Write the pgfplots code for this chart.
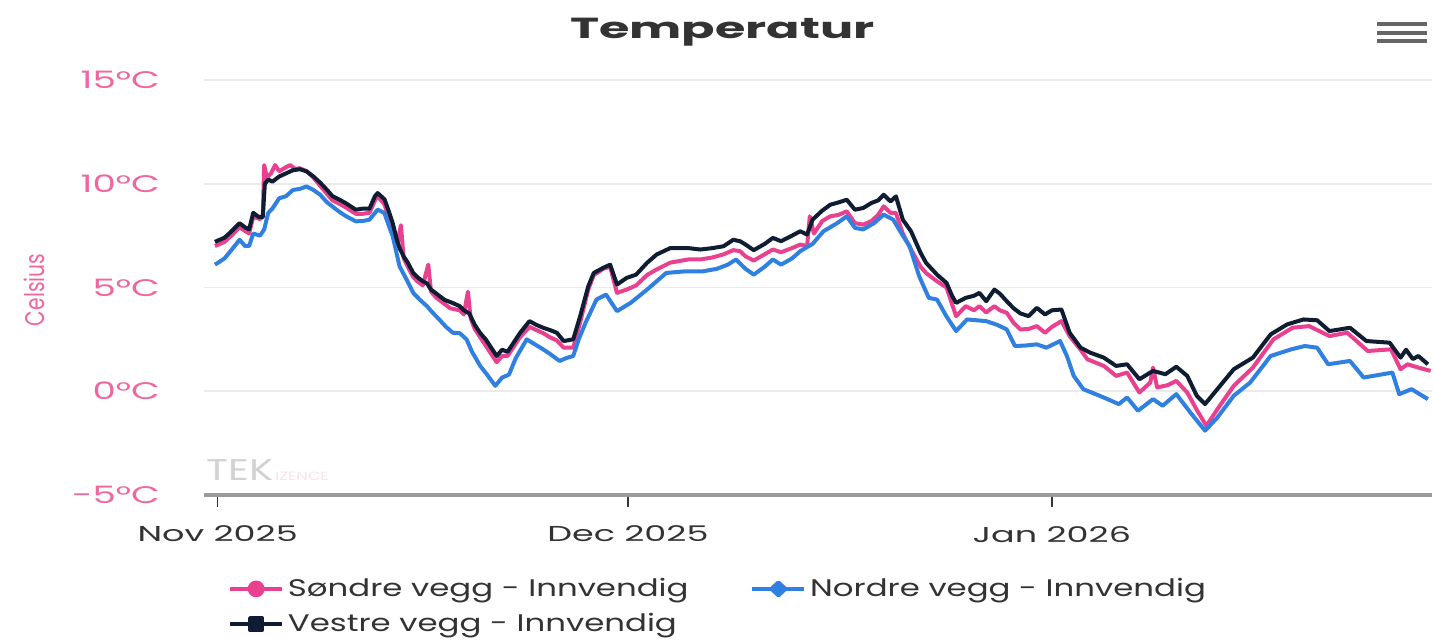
\documentclass[border=0pt]{standalone}
\usepackage{pgfplots}
\pgfplotsset{compat=1.18}
\usepackage{fontspec}
\setmainfont{Poppins}[FakeStretch=1.35]
\newfontfamily\titlefont{Poppins}[FakeStretch=1.7]
\newfontfamily\xlabfont{Poppins}[FakeStretch=1.62]
\newfontfamily\ylabfont{Poppins}[FakeStretch=1.55]
\newfontfamily\narrowfont{Poppins}[FakeStretch=0.75]
\definecolor{pinkc}{HTML}{E9418F}
\definecolor{pinklab}{HTML}{F0679F}
\definecolor{bluec}{HTML}{2F80E0}
\definecolor{darkc}{HTML}{0F1D33}
\definecolor{gridc}{HTML}{EBEBEB}
\definecolor{axisc}{HTML}{9A9A9A}
\definecolor{textc}{HTML}{333333}
\begin{document}
\begin{tikzpicture}
\useasboundingbox (0pt,0pt) rectangle (717pt,321pt);
\begin{axis}[
  at={(102pt,73.5pt)}, anchor=south west,
  scale only axis, width=614pt, height=207.5pt,
  xmin=-1, xmax=88.8, ymin=-5, ymax=15,
  separate axis lines,
  axis x line*=bottom, axis y line*=left,
  y axis line style={draw=none},
  x axis line style={draw=axisc, line width=1.8pt, -},
  ytick={-5,0,5,10,15},
  yticklabels={-5°C,0°C,5°C,10°C,15°C},
  ytick style={draw=none},
  yticklabel style={text=pinklab, font=\ylabfont\fontsize{12}{13}\selectfont, anchor=east, xshift=-12.5pt},
  xtick={0,30,61},
  xticklabels={Nov 2025,Dec 2025,Jan 2026},
  xticklabel style={text=textc, font=\xlabfont\fontsize{10.8}{12}\selectfont, yshift=-6pt},
  xtick style={draw=textc, line width=0.8pt},
  tick align=outside, major tick length=6pt,
  xtick pos=bottom,
  ymajorgrids, grid style={draw=gridc, line width=0.9pt},
  /pgf/number format/assume math mode=true,
  legend columns=2,
  legend cell align=left,
  legend style={at={(0.0195,-0.19)}, anchor=north west, draw=none, fill=none,
    font=\fontsize{12}{15}\selectfont, text=textc, inner sep=0pt, row sep=3pt,
    /tikz/every even column/.append style={column sep=29pt}},
]
\addplot[pinkc, line width=2pt, line join=round,
  legend image code/.code={\draw[pinkc, line width=1.8pt] (0pt,0pt) -- (26pt,0pt); \fill[pinkc] (13pt,0pt) circle (3.2pt);}]
coordinates {
(-0.2,7.0) (0.5,7.2) (1,7.5) (1.6,7.9) (2.3,7.6) (2.6,8.4) (3.1,8.3) (3.3,8.4) (3.4,10.9) (3.6,10.3) (3.9,10.5) (4.2,10.9) (4.5,10.6) (5.0,10.8) (5.3,10.9) (5.7,10.7) (6.0,10.75) (6.5,10.6) (7.0,10.3) (7.5,9.9) (8.0,9.5) (8.4,9.2) (9.0,9.0) (9.4,8.85) (10.1,8.55) (10.6,8.55) (11.1,8.6) (11.5,9.2) (11.7,9.4) (12.2,9.0) (12.5,8.4) (12.8,7.8) (13.1,7.0) (13.4,8.0) (13.6,6.4) (13.9,6.0) (14.3,5.5) (14.6,5.3) (15.0,5.1) (15.4,6.1) (15.6,4.8) (16.0,4.5) (16.2,4.4) (16.6,4.2) (17.0,4.0) (17.7,3.9) (18.0,3.7) (18.3,4.8) (18.5,3.5) (18.8,3.0) (19.2,2.6) (19.6,2.2) (20.0,1.8) (20.4,1.4) (20.8,1.7) (21.2,1.7) (21.6,2.1) (22.1,2.6) (22.8,3.1) (23.3,2.95) (23.8,2.8) (24.3,2.6) (24.8,2.45) (25.3,2.1) (26.0,2.1) (26.5,3.3) (27.1,4.9) (27.5,5.6) (28.2,5.9) (28.7,6.0) (29.2,4.74) (29.9,4.9) (30.6,5.1) (31.4,5.6) (32.1,5.87) (33.1,6.2) (34.4,6.35) (35.3,6.35) (36.2,6.45) (37.0,6.6) (37.7,6.8) (38.2,6.75) (38.6,6.5) (39.2,6.3) (40.0,6.6) (40.6,6.83) (41.2,6.7) (42.0,6.9) (42.6,7.07) (43.1,7.0) (43.3,8.43) (43.6,7.6) (44.2,8.2) (44.8,8.43) (45.4,8.5) (46.0,8.67) (46.6,8.1) (47.2,8.03) (47.8,8.2) (48.3,8.5) (48.7,8.91) (49.2,8.6) (49.6,8.59) (50.1,7.6) (50.7,6.83) (51.4,6.0) (51.8,5.7) (52.6,5.3) (53.3,5.0) (53.7,4.2) (54.0,3.62) (54.7,4.1) (55.3,3.9) (55.7,4.1) (56.2,3.8) (56.8,4.1) (57.2,3.9) (57.7,3.78) (58.2,3.3) (58.7,2.98) (59.3,3.0) (59.9,3.14) (60.5,2.82) (61.0,3.1) (61.7,3.38) (62.3,2.66) (63.1,2.0) (63.6,1.54) (64.8,1.22) (65.7,0.74) (66.5,0.9) (67.4,-0.06) (68.2,0.42) (68.4,1.14) (68.7,0.18) (69.5,0.3) (70.1,0.5) (70.9,-0.06) (71.6,-0.9) (72.3,-1.67) (73.1,-0.87) (74.3,0.26) (75.7,1.14) (77.2,2.5) (78.6,3.06) (79.8,3.14) (81.3,2.66) (82.6,2.82) (84.1,1.94) (85.8,2.02) (86.5,1.06) (87.0,1.3) (87.8,1.14) (88.7,0.98)
};
\addlegendentry{Søndre vegg - Innvendig}
\addplot[bluec, line width=2pt, line join=round,
  legend image code/.code={\draw[bluec, line width=1.8pt] (0pt,0pt) -- (26pt,0pt); \fill[bluec] (13pt,3.2pt) -- (16.5pt,0pt) -- (13pt,-3.2pt) -- (9.5pt,0pt) -- cycle;}]
coordinates {
(-0.2,6.1) (0.5,6.4) (1,6.8) (1.6,7.3) (2.0,7.0) (2.3,7.0) (2.6,7.6) (3.1,7.5) (3.4,7.8) (3.7,8.6) (4.0,8.8) (4.5,9.3) (5.0,9.4) (5.5,9.7) (6.0,9.75) (6.5,9.87) (7.0,9.7) (7.5,9.47) (8.0,9.1) (8.4,8.9) (9.0,8.6) (9.4,8.43) (10.1,8.19) (10.6,8.2) (11.1,8.27) (11.7,8.75) (12.2,8.59) (12.5,8.0) (12.8,7.47) (13.3,6.02) (13.8,5.4) (14.3,4.74) (14.8,4.4) (15.3,4.1) (15.7,3.8) (16.2,3.46) (16.7,3.1) (17.2,2.82) (17.7,2.8) (18.2,2.5) (18.6,1.9) (19.2,1.22) (19.7,0.8) (20.3,0.26) (20.8,0.66) (21.3,0.8) (21.8,1.6) (22.6,2.5) (23.1,2.3) (23.8,2.02) (24.3,1.8) (25.0,1.46) (25.5,1.6) (26.0,1.7) (26.4,2.5) (26.9,3.3) (27.7,4.42) (28.4,4.66) (29.2,3.86) (30.2,4.26) (31.4,4.9) (32.8,5.7) (34.2,5.78) (35.5,5.78) (36.5,5.9) (37.3,6.1) (37.9,6.35) (38.6,5.9) (39.2,5.62) (40.0,6.0) (40.6,6.35) (41.2,6.1) (42.0,6.4) (42.6,6.75) (43.5,7.1) (44.3,7.71) (45.3,8.1) (46.0,8.43) (46.6,7.87) (47.2,7.8) (48.0,8.1) (48.7,8.51) (49.4,8.27) (50.1,7.5) (50.6,6.99) (51.3,5.54) (52.0,4.5) (52.6,4.42) (53.3,3.6) (54.0,2.9) (54.8,3.46) (56.2,3.38) (57.0,3.2) (57.7,2.98) (58.3,2.18) (59.0,2.2) (59.9,2.26) (60.6,2.1) (61.6,2.42) (62.1,1.7) (62.6,0.74) (63.3,0.1) (64.5,-0.22) (65.9,-0.62) (66.5,-0.3) (67.3,-0.94) (68.4,-0.38) (69.1,-0.7) (70.1,-0.14) (71.1,-1.0) (72.2,-1.9) (73.1,-1.27) (74.3,-0.22) (75.5,0.42) (77.0,1.7) (78.5,2.02) (79.5,2.18) (80.4,2.1) (81.2,1.3) (82.8,1.46) (83.8,0.66) (85.9,0.9) (86.4,-0.14) (87.3,0.1) (88.5,-0.38)
};
\addlegendentry{Nordre vegg - Innvendig}
\addplot[darkc, line width=2pt, line join=round,
  legend image code/.code={\draw[darkc, line width=1.8pt] (0pt,0pt) -- (26pt,0pt); \fill[darkc] (10pt,-3pt) rectangle (16pt,3pt);}]
coordinates {
(-0.2,7.2) (0.5,7.4) (1,7.7) (1.6,8.1) (2.0,7.9) (2.3,7.8) (2.6,8.6) (3.0,8.4) (3.3,8.4) (3.45,10.0) (3.7,10.2) (4.0,10.1) (4.5,10.35) (5.0,10.5) (5.5,10.65) (6.0,10.7) (6.5,10.6) (7.0,10.35) (7.5,10.05) (8.0,9.7) (8.4,9.4) (9.0,9.2) (9.4,9.05) (10.1,8.75) (10.6,8.8) (11.1,8.8) (11.5,9.4) (11.7,9.55) (12.2,9.25) (12.5,8.7) (12.8,8.1) (13.1,7.3) (13.3,6.9) (13.6,6.5) (13.9,6.2) (14.3,5.7) (14.6,5.5) (15.0,5.3) (15.3,5.2) (15.6,4.9) (16.0,4.7) (16.2,4.6) (16.6,4.4) (17.0,4.3) (17.2,4.25) (17.7,4.1) (18.0,3.9) (18.4,3.75) (18.8,3.2) (19.2,2.8) (19.6,2.5) (20.0,2.1) (20.4,1.7) (20.8,2.0) (21.2,1.9) (21.6,2.3) (22.1,2.8) (22.8,3.38) (23.3,3.2) (23.8,3.06) (24.3,2.95) (24.8,2.82) (25.3,2.42) (26.0,2.5) (26.5,3.6) (27.1,5.06) (27.5,5.7) (28.2,5.95) (28.7,6.1) (29.2,5.14) (29.9,5.46) (30.6,5.62) (31.4,6.19) (32.1,6.59) (33.1,6.9) (34.4,6.9) (35.3,6.83) (36.2,6.9) (37.0,6.99) (37.7,7.3) (38.2,7.23) (38.6,7.07) (39.2,6.8) (40.0,7.1) (40.6,7.39) (41.2,7.23) (42.0,7.5) (42.6,7.71) (43.1,7.55) (43.5,8.27) (44.2,8.7) (44.8,8.99) (45.4,9.1) (46.0,9.23) (46.6,8.75) (47.2,8.83) (47.8,9.07) (48.3,9.2) (48.7,9.47) (49.2,9.15) (49.6,9.39) (50.1,8.27) (50.7,7.71) (51.4,6.67) (51.8,6.19) (52.6,5.62) (53.3,5.22) (53.7,4.6) (54.0,4.26) (54.7,4.5) (55.3,4.6) (55.7,4.74) (56.2,4.34) (56.8,4.9) (57.2,4.7) (57.7,4.34) (58.2,4.0) (58.7,3.75) (59.3,3.62) (59.9,4.02) (60.5,3.7) (61.0,3.9) (61.7,3.94) (62.3,2.82) (63.1,2.1) (63.8,1.86) (64.8,1.62) (65.7,1.22) (66.5,1.3) (67.4,0.58) (68.4,0.98) (69.3,0.82) (70.1,1.18) (70.9,0.74) (71.6,-0.22) (72.2,-0.62) (73.1,0.1) (74.3,1.06) (75.7,1.62) (77.0,2.74) (78.2,3.22) (79.4,3.46) (80.4,3.42) (81.3,2.9) (82.8,3.06) (84.0,2.42) (85.7,2.34) (86.5,1.62) (86.9,2.0) (87.4,1.55) (87.8,1.7) (88.5,1.3)
};
\addlegendentry{Vestre vegg - Innvendig}
\end{axis}
% title
\node[anchor=base, font=\titlefont\bfseries\fontsize{14.5}{17}\selectfont, text=textc] at (361.25pt,301.9pt) {Temperatur};
% y label
\node[rotate=90, text=pinklab, font=\narrowfont\fontsize{13.5}{15}\selectfont] at (17pt,176pt) {Celsius};
% menu icon
\foreach \yy in {309pt,304.7pt,300.6pt}
  \draw[draw=black!60, line width=2pt] (688.5pt,\yy) -- (713.5pt,\yy);
% watermark
\node[anchor=west, text=gray!35, font=\fontsize{15}{16}\selectfont, inner sep=0pt] at (103pt,86pt) {TEK};
\node[anchor=west, text=pinklab!20, font=\fontsize{6}{7}\selectfont, inner sep=0pt] at (137.5pt,83pt) {IZENCE};
\end{tikzpicture}
\end{document}
